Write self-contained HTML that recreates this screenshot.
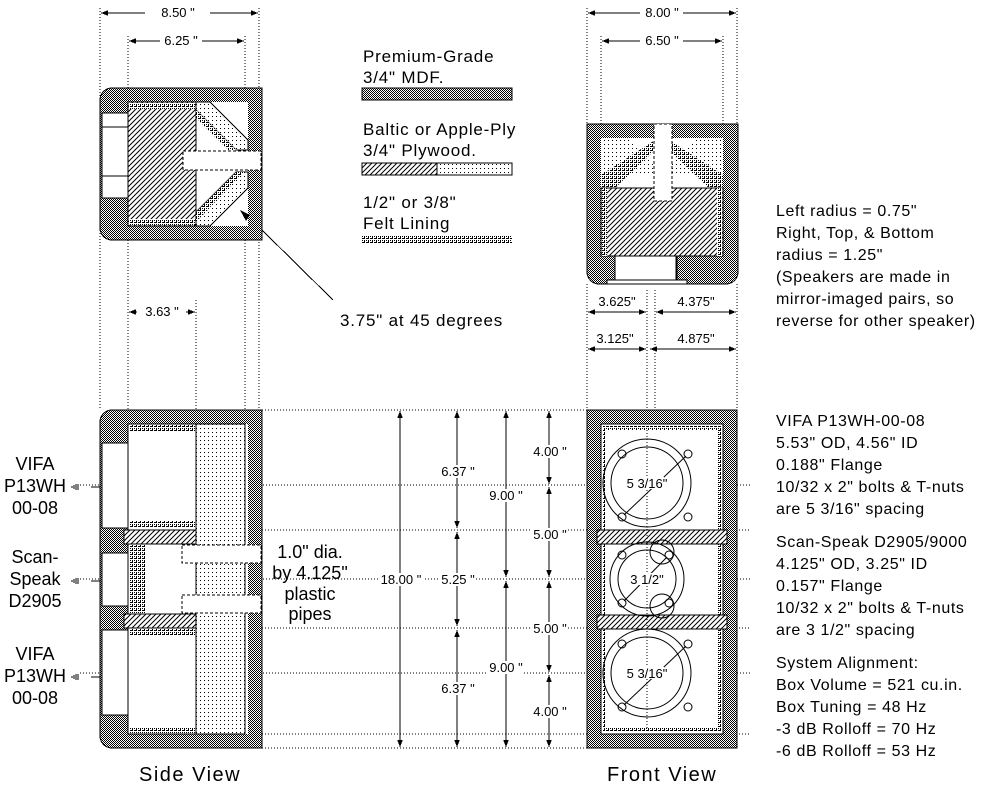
<!DOCTYPE html>
<html><head><meta charset="utf-8"><style>
html,body{margin:0;padding:0;background:#fff;}
svg{display:block;font-family:"Liberation Sans",Arial,sans-serif;}
</style></head><body>
<svg width="984" height="789" viewBox="0 0 984 789" xmlns="http://www.w3.org/2000/svg" shape-rendering="crispEdges">
<defs>
<pattern id="ck" width="2" height="2" patternUnits="userSpaceOnUse"><rect width="2" height="2" fill="#fff"/><rect width="1" height="1" fill="#000"/><rect x="1" y="1" width="1" height="1" fill="#000"/></pattern>
<pattern id="ht" width="5" height="5" patternUnits="userSpaceOnUse"><rect width="5" height="5" fill="#fff"/><path d="M0 5L5 0M-1 1L1 -1M4 6L6 4" stroke="#000" stroke-width="1" shape-rendering="auto"/></pattern>
<pattern id="dt" width="4" height="4" patternUnits="userSpaceOnUse"><rect width="4" height="4" fill="#fff"/><rect width="1" height="1" fill="#000"/></pattern>
<pattern id="ft" width="4" height="4" patternUnits="userSpaceOnUse"><rect width="4" height="4" fill="#fff"/><rect width="1" height="3" fill="#000"/><rect x="2" y="0" width="1" height="1" fill="#000"/><rect x="2" y="2" width="2" height="1" fill="#000"/></pattern>
<marker id="ah" viewBox="0 0 10 10" refX="10" refY="5" markerWidth="9" markerHeight="7" orient="auto-start-reverse" markerUnits="userSpaceOnUse"><path d="M0 1L10 5L0 9Z" fill="#000"/></marker>
</defs>

<g stroke="#000" stroke-dasharray="1,2" fill="none" stroke-width="1">
<path d="M100 8V410M128 36V410M196 300V410M245 36V410M259 8V410"/>
<path d="M587 8V124M601 36V124M723 36V124M737 8V124M587 284V410M737 284V410M647 290V410M655 290V410"/>
<path d="M262 410H587M262 748H587M80 485H750M100 530H750M80 579H750M100 628H750M80 673H750M100 734H750"/>
</g>

<!-- top dims -->
<g stroke="#000" stroke-width="1.2">
<line x1="101" y1="13" x2="145" y2="13" marker-start="url(#ah)"/><line x1="210" y1="13" x2="258" y2="13" marker-end="url(#ah)"/>
<line x1="129" y1="41" x2="160" y2="41" marker-start="url(#ah)"/><line x1="202" y1="41" x2="244" y2="41" marker-end="url(#ah)"/>
<line x1="588" y1="13" x2="640" y2="13" marker-start="url(#ah)"/><line x1="683" y1="13" x2="736" y2="13" marker-end="url(#ah)"/>
<line x1="602" y1="41" x2="640" y2="41" marker-start="url(#ah)"/><line x1="683" y1="41" x2="722" y2="41" marker-end="url(#ah)"/>
<line x1="129" y1="312" x2="137" y2="312" marker-start="url(#ah)"/><line x1="186" y1="312" x2="195" y2="312" marker-end="url(#ah)"/>
<line x1="588" y1="312" x2="646" y2="312" marker-start="url(#ah)" marker-end="url(#ah)"/><line x1="656" y1="312" x2="736" y2="312" marker-start="url(#ah)" marker-end="url(#ah)"/>
<line x1="588" y1="349" x2="646" y2="349" marker-start="url(#ah)" marker-end="url(#ah)"/><line x1="650" y1="349" x2="736" y2="349" marker-start="url(#ah)" marker-end="url(#ah)"/>
</g>
<g font-size="13" text-anchor="middle">
<text x="178" y="17">8.50 "</text><text x="181" y="45">6.25 "</text>
<text x="662" y="17">8.00 "</text><text x="662" y="45">6.50 "</text>
<text x="162" y="316">3.63 "</text>
<rect x="603" y="295" width="40" height="12" fill="#fff"/><text x="617" y="306">3.625"</text>
<text x="696" y="306">4.375"</text><text x="615" y="343">3.125"</text><text x="696" y="343">4.875"</text>
</g>

<!-- side top view -->
<path d="M112 88H262V240H112A12 12 0 0 1 100 228V100A12 12 0 0 1 112 88Z" fill="url(#ck)" stroke="#000"/>
<rect x="128" y="102" width="120" height="124" fill="#fff"/>
<rect x="102" y="113" width="26" height="85" fill="#fff" stroke="#000"/>
<line x1="102" y1="127" x2="128" y2="127" stroke="#000"/><line x1="102" y1="176" x2="128" y2="176" stroke="#000"/>
<rect x="128" y="102" width="68" height="124" fill="url(#ht)" stroke="#000"/>
<rect x="129" y="103" width="66" height="6" fill="url(#ft)"/><rect x="129" y="219" width="66" height="6" fill="url(#ft)"/>
<polygon points="196,102 210,102 248,140 248,150 236,150 196,110" fill="url(#dt)" stroke="#000"/>
<polygon points="196,110 236,150 228,150 196,118" fill="url(#ft)"/>
<polygon points="196,226 210,226 248,188 248,172 236,172 196,212" fill="url(#dt)" stroke="#000"/>
<polygon points="196,212 236,172 244,172 196,222" fill="url(#ft)"/>
<rect x="183" y="151" width="78" height="19" fill="#fff" stroke="#000" stroke-dasharray="3,2"/>
<line x1="262" y1="230" x2="333" y2="300" stroke="#000"/>
<polygon points="240,210 250,215 246,221" fill="#000"/>

<!-- legend -->
<g font-size="17" letter-spacing="0.8"><text x="363" y="62">Premium-Grade</text><text x="363" y="83">3/4" MDF.</text>
<text x="363" y="135">Baltic or Apple-Ply</text><text x="363" y="156">3/4" Plywood.</text>
<text x="363" y="208">1/2" or 3/8"</text><text x="363" y="229">Felt Lining</text>
<text x="340" y="326">3.75" at 45 degrees</text></g>
<rect x="362" y="88" width="150" height="12" fill="url(#ck)" stroke="#000"/>
<rect x="362" y="163" width="75" height="12" fill="url(#ht)" stroke="#000"/>
<rect x="437" y="163" width="75" height="12" fill="url(#dt)" stroke="#000"/>
<rect x="362" y="236" width="150" height="7" fill="url(#ft)"/>

<!-- front top view -->
<path d="M587 124H738V272A12 12 0 0 1 726 284H599A12 12 0 0 1 587 272Z" fill="url(#ck)" stroke="#000"/>
<rect x="601" y="138" width="122" height="118" fill="#fff"/>
<polygon points="601,138 628,138 655,165 655,175 601,175" fill="url(#dt)"/>
<polygon points="723,138 696,138 669,165 669,175 723,175" fill="url(#dt)"/>
<polygon points="601,175 601,188 615,188 655,150 655,140" fill="url(#ft)"/>
<polygon points="723,175 723,188 709,188 669,150 669,140" fill="url(#ft)"/>
<rect x="601" y="188" width="122" height="68" fill="url(#ht)" stroke="#000"/>
<rect x="602" y="188" width="5" height="68" fill="url(#ft)"/><rect x="717" y="188" width="5" height="68" fill="url(#ft)"/>
<rect x="654" y="124" width="18" height="77" fill="#fff" stroke="#000" stroke-dasharray="3,2"/>
<rect x="615" y="256" width="62" height="26" fill="#fff" stroke="#000"/>
<line x1="676" y1="256" x2="676" y2="282" stroke="#000"/>
<rect x="607" y="280" width="80" height="4" fill="#fff" stroke="#000"/>

<!-- side bottom view -->
<path d="M112 410H262V748H112A12 12 0 0 1 100 736V422A12 12 0 0 1 112 410Z" fill="url(#ck)" stroke="#000"/>
<rect x="128" y="424" width="120" height="310" fill="#fff"/>
<rect x="196" y="424" width="49" height="310" fill="url(#dt)" stroke="#000"/>
<rect x="102" y="443" width="26" height="85" fill="#fff" stroke="#000"/>
<rect x="102" y="553" width="26" height="53" fill="#fff" stroke="#000"/>
<rect x="102" y="630" width="26" height="85" fill="#fff" stroke="#000"/>
<rect x="128" y="424" width="68" height="310" fill="#fff" stroke="#000"/>
<rect x="129" y="425" width="66" height="6" fill="url(#ft)"/><rect x="129" y="727" width="66" height="6" fill="url(#ft)"/>
<rect x="129" y="521" width="66" height="7" fill="url(#ft)"/><rect x="129" y="629" width="66" height="7" fill="url(#ft)"/>
<rect x="124" y="530" width="72" height="14" fill="url(#ht)" stroke="#000"/>
<rect x="124" y="614" width="72" height="14" fill="url(#ht)" stroke="#000"/>
<rect x="128" y="544" width="68" height="70" fill="#fff" stroke="#000"/>
<rect x="129" y="545" width="16" height="68" fill="url(#ft)"/>
<rect x="182" y="545" width="79" height="18" fill="#fff" stroke="#000" stroke-dasharray="3,2"/>
<rect x="182" y="595" width="79" height="18" fill="#fff" stroke="#000" stroke-dasharray="3,2"/>

<!-- front bottom view -->
<rect x="587" y="410" width="150" height="338" fill="url(#ck)" stroke="#000"/>
<rect x="601" y="424" width="122" height="310" fill="#fff" stroke="#000"/>
<rect x="603" y="426" width="118" height="4" fill="url(#ft)"/><rect x="603" y="728" width="118" height="4" fill="url(#ft)"/>
<rect x="603" y="430" width="3" height="298" fill="url(#ft)"/><rect x="718" y="430" width="3" height="298" fill="url(#ft)"/>
<rect x="597" y="530" width="130" height="14" fill="url(#ht)" stroke="#000"/>
<rect x="597" y="615" width="130" height="14" fill="url(#ht)" stroke="#000"/>
<g fill="none" stroke="#000" shape-rendering="auto">
<circle cx="647" cy="483" r="44"/><circle cx="647" cy="483" r="36"/>
<circle cx="647" cy="673" r="44"/><circle cx="647" cy="673" r="36"/>
<circle cx="647" cy="579" r="37"/><circle cx="647" cy="579" r="29"/>
<circle cx="662" cy="552" r="12"/><circle cx="662" cy="606" r="12"/>
<circle cx="622" cy="454" r="4"/><circle cx="688" cy="454" r="4"/><circle cx="622" cy="517" r="4"/><circle cx="688" cy="517" r="4"/>
<circle cx="622" cy="644" r="4"/><circle cx="688" cy="644" r="4"/><circle cx="622" cy="707" r="4"/><circle cx="688" cy="707" r="4"/>
<circle cx="622" cy="555" r="4"/><circle cx="669" cy="555" r="4"/><circle cx="622" cy="603" r="4"/><circle cx="669" cy="603" r="4"/>
<line x1="624" y1="515" x2="686" y2="456"/><line x1="624" y1="705" x2="686" y2="646"/><line x1="624" y1="601" x2="667" y2="557"/>
<line x1="647" y1="430" x2="647" y2="728" stroke-dasharray="1,2"/>
</g>
<g font-size="13" text-anchor="middle">
<rect x="630" y="477" width="34" height="12" fill="#fff"/><text x="647" y="488">5 3/16"</text>
<rect x="634" y="573" width="26" height="12" fill="#fff"/><text x="647" y="584">3 1/2"</text>
<rect x="630" y="667" width="34" height="12" fill="#fff"/><text x="647" y="678">5 3/16"</text>
</g>

<!-- vertical dims -->
<g stroke="#000" stroke-width="1.2">
<line x1="400" y1="411" x2="400" y2="747" marker-start="url(#ah)" marker-end="url(#ah)"/>
<line x1="457" y1="411" x2="457" y2="528" marker-start="url(#ah)" marker-end="url(#ah)"/>
<line x1="457" y1="532" x2="457" y2="626" marker-start="url(#ah)" marker-end="url(#ah)"/>
<line x1="457" y1="630" x2="457" y2="747" marker-start="url(#ah)" marker-end="url(#ah)"/>
<line x1="506" y1="411" x2="506" y2="577" marker-start="url(#ah)" marker-end="url(#ah)"/>
<line x1="506" y1="581" x2="506" y2="747" marker-start="url(#ah)" marker-end="url(#ah)"/>
<line x1="549" y1="411" x2="549" y2="484" marker-start="url(#ah)" marker-end="url(#ah)"/>
<line x1="549" y1="487" x2="549" y2="577" marker-start="url(#ah)" marker-end="url(#ah)"/>
<line x1="549" y1="581" x2="549" y2="672" marker-start="url(#ah)" marker-end="url(#ah)"/>
<line x1="549" y1="675" x2="549" y2="747" marker-start="url(#ah)" marker-end="url(#ah)"/>
</g>
<g font-size="13" text-anchor="middle">
<rect x="378" y="573" width="46" height="13" fill="#fff"/><text x="401" y="584">18.00 "</text>
<rect x="440" y="465" width="34" height="13" fill="#fff"/><text x="458" y="476">6.37 "</text>
<rect x="440" y="573" width="34" height="13" fill="#fff"/><text x="458" y="584">5.25 "</text>
<rect x="440" y="682" width="34" height="13" fill="#fff"/><text x="458" y="693">6.37 "</text>
<rect x="488" y="489" width="36" height="13" fill="#fff"/><text x="506" y="500">9.00 "</text>
<rect x="488" y="661" width="36" height="13" fill="#fff"/><text x="506" y="672">9.00 "</text>
<rect x="532" y="445" width="36" height="13" fill="#fff"/><text x="550" y="456">4.00 "</text>
<rect x="532" y="528" width="36" height="13" fill="#fff"/><text x="550" y="539">5.00 "</text>
<rect x="532" y="622" width="36" height="13" fill="#fff"/><text x="550" y="633">5.00 "</text>
<rect x="532" y="705" width="36" height="13" fill="#fff"/><text x="550" y="716">4.00 "</text>
</g>

<g font-size="18" text-anchor="middle">
<text x="310" y="558">1.0" dia.</text><text x="310" y="579">by 4.125"</text><text x="310" y="600">plastic</text><text x="310" y="620">pipes</text>
<text x="35" y="470">VIFA</text><text x="35" y="492">P13WH</text><text x="35" y="514">00-08</text>
<text x="35" y="563">Scan-</text><text x="35" y="585">Speak</text><text x="35" y="607">D2905</text>
<text x="35" y="660">VIFA</text><text x="35" y="682">P13WH</text><text x="35" y="704">00-08</text>
</g>
<g stroke="#000"><path d="M71 487h2M74 485v4M76 484v6M78 484v6M91 487h9M71 581h2M74 579v4M76 578v6M78 578v6M91 581h9M71 677h2M74 675v4M76 674v6M78 674v6M91 677h9"/></g>

<g font-size="16" letter-spacing="0.6">
<text x="776" y="216">Left radius = 0.75"</text><text x="776" y="238">Right, Top, &amp; Bottom</text><text x="776" y="260">radius = 1.25"</text>
<text x="776" y="282">(Speakers are made in</text><text x="776" y="304">mirror-imaged pairs, so</text><text x="776" y="326">reverse for other speaker)</text>
<text x="776" y="426">VIFA P13WH-00-08</text><text x="776" y="448">5.53" OD, 4.56" ID</text><text x="776" y="470">0.188" Flange</text><text x="776" y="492">10/32 x 2" bolts &amp; T-nuts</text><text x="776" y="514">are 5  3/16" spacing</text>
<text x="776" y="547">Scan-Speak D2905/9000</text><text x="776" y="569">4.125" OD, 3.25" ID</text><text x="776" y="591">0.157" Flange</text><text x="776" y="613">10/32 x 2" bolts &amp; T-nuts</text><text x="776" y="635">are 3  1/2" spacing</text>
<text x="776" y="668">System Alignment:</text><text x="776" y="690">Box Volume = 521 cu.in.</text><text x="776" y="712">Box Tuning = 48 Hz</text><text x="776" y="734">-3 dB Rolloff = 70 Hz</text><text x="776" y="756">-6 dB Rolloff = 53 Hz</text>
</g>
<g font-size="20" letter-spacing="1.5"><text x="139" y="781">Side View</text><text x="607" y="781">Front View</text></g>
</svg>
</body></html>
